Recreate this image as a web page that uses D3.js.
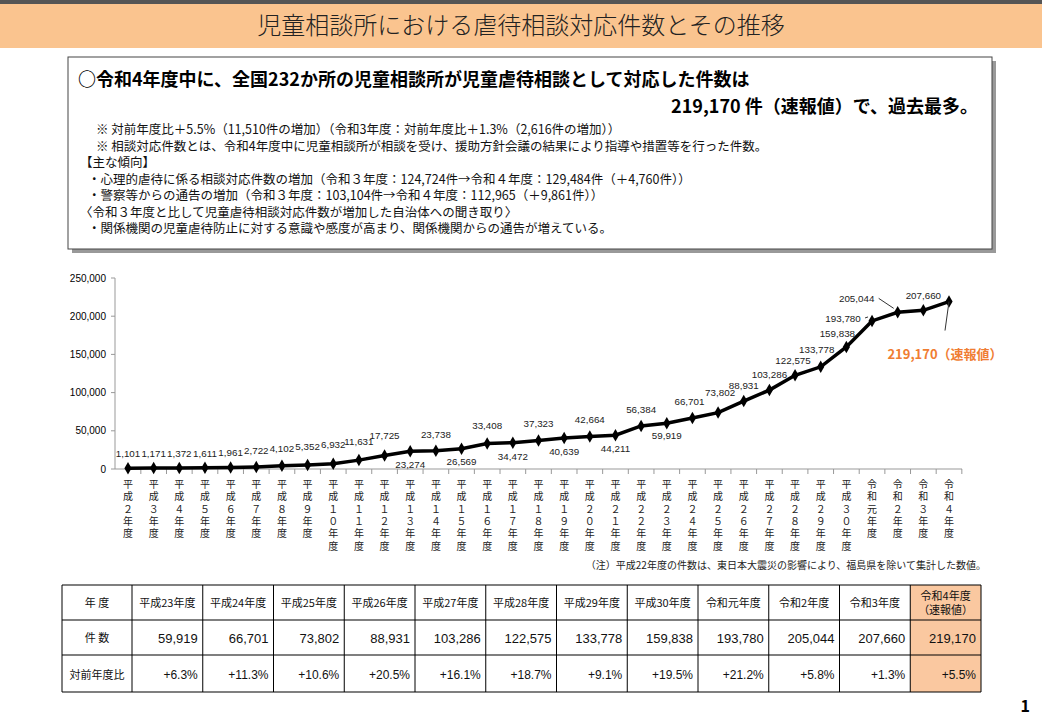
<!DOCTYPE html>
<html><head><meta charset="utf-8">
<script src="https://cdn.jsdelivr.net/npm/d3@7"></script>
<style>body{margin:0;background:#fff;font-family:"Noto Sans CJK JP",sans-serif;}</style>
</head><body>
<svg id="c" width="1042" height="722"></svg>
<script>
// data
var years = ["平成2年度","平成3年度","平成4年度","平成5年度","平成6年度","平成7年度","平成8年度","平成9年度","平成10年度","平成11年度","平成12年度","平成13年度","平成14年度","平成15年度","平成16年度","平成17年度","平成18年度","平成19年度","平成20年度","平成21年度","平成22年度","平成23年度","平成24年度","平成25年度","平成26年度","平成27年度","平成28年度","平成29年度","平成30年度","令和元年度","令和2年度","令和3年度","令和4年度"];
var counts = [1101,1171,1372,1611,1961,2722,4102,5352,6932,11631,17725,23274,23738,26569,33408,34472,37323,40639,42664,44211,56384,59919,66701,73802,88931,103286,122575,133778,159838,193780,205044,207660,219170];
var yTicks = [0,50000,100000,150000,200000,250000];
var tableYears = ["平成23年度","平成24年度","平成25年度","平成26年度","平成27年度","平成28年度","平成29年度","平成30年度","令和元年度","令和2年度","令和3年度","令和4年度"];
var tableCounts = [59919,66701,73802,88931,103286,122575,133778,159838,193780,205044,207660,219170];
var tableRates = ["+6.3%","+11.3%","+10.6%","+20.5%","+16.1%","+18.7%","+9.1%","+19.5%","+21.2%","+5.8%","+1.3%","+5.5%"];
// label offsets [dx,dy] (layout)
var labelOff = [[0,-15],[0,-15],[0,-15],[0,-15],[0,-16],[0,-17],[0,-18],[0,-19],[0,-20],[0,-19],[0,-20],[0,13],[0,-17],[0,12],[0,-18],[0,13],[0,-17],[0,13],[0,-17],[0,13],[0,-17],[0,12],[-3,-17],[2,-21],[0,-16],[0,-16],[-2,-15],[-4,-18],[-9,-14],[-29,-3],[-41,-14],[0,-15],null];

var svg = d3.select("#c");
var fmt = d3.format(",");

// title band
svg.append("rect").attr("x",0).attr("y",0).attr("width",1042).attr("height",4).attr("fill","#555");
svg.append("rect").attr("x",0).attr("y",4).attr("width",1042).attr("height",44).attr("fill","#fac48f");
svg.append("text").attr("x",521).attr("y",34).attr("text-anchor","middle")
    .attr("font-size",24).attr("font-weight",300).attr("fill","#222")
    .text("児童相談所における虐待相談対応件数とその推移");

// summary box
svg.append("rect").attr("x",72).attr("y",61).attr("width",924).attr("height",192).attr("fill","#999");
svg.append("rect").attr("x",68).attr("y",57).attr("width",924).attr("height",192).attr("fill","#fff").attr("stroke","#444");
svg.append("text").attr("x",78).attr("y",86).attr("font-size",18).attr("font-weight",700)
    .text("○令和4年度中に、全国232か所の児童相談所が児童虐待相談として対応した件数は");
svg.append("text").attr("x",978).attr("y",113).attr("text-anchor","end").attr("font-size",18).attr("font-weight",700)
    .text("219,170 件（速報値）で、過去最多。");
var lines = [
    [96,"※  対前年度比＋5.5%（11,510件の増加）（令和3年度：対前年度比＋1.3%（2,616件の増加））"],
    [96,"※  相談対応件数とは、令和4年度中に児童相談所が相談を受け、援助方針会議の結果により指導や措置等を行った件数。"],
    [80,"【主な傾向】"],
    [88,"・心理的虐待に係る相談対応件数の増加（令和３年度：124,724件→令和４年度：129,484件（＋4,760件））"],
    [88,"・警察等からの通告の増加（令和３年度：103,104件→令和４年度：112,965（＋9,861件））"],
    [80,"〈令和３年度と比して児童虐待相談対応件数が増加した自治体への聞き取り〉"],
    [88,"・関係機関の児童虐待防止に対する意識や感度が高まり、関係機関からの通告が増えている。"]
];
lines.forEach(function(l,i){
    svg.append("text").attr("x",l[0]).attr("y",134+i*16.5).attr("font-size",12.5).attr("fill","#111").text(l[1]);
});

// chart
var x = d3.scalePoint().domain(years).range([128,949]);
var y = d3.scaleLinear().domain([0,250000]).range([469,278]);
var step = x.step();
var g = svg.append("g");
g.append("line").attr("x1",115).attr("x2",115).attr("y1",278).attr("y2",469).attr("stroke","#999");
g.append("line").attr("x1",115).attr("x2",962).attr("y1",469).attr("y2",469).attr("stroke","#999");
g.selectAll(".yt").data(yTicks).enter().append("g").each(function(d){
    var s = d3.select(this);
    s.append("line").attr("x1",111).attr("x2",115).attr("y1",y(d)).attr("y2",y(d)).attr("stroke","#999");
    s.append("text").attr("x",106).attr("y",y(d)+3.5).attr("text-anchor","end").attr("font-size",10)
        .attr("font-family","Liberation Sans, sans-serif").text(fmt(d));
});
g.selectAll(".xt").data(years).enter().append("line")
    .attr("x1",function(d){return x(d)+step/2;}).attr("x2",function(d){return x(d)+step/2;})
    .attr("y1",469).attr("y2",474).attr("stroke","#999");
// vertical category labels
years.forEach(function(d){
    var chars = d.replace(/(\d)/g,function(m){return String.fromCharCode(m.charCodeAt(0)+0xFEE0);}).split("");
    chars.forEach(function(ch,i){
        svg.append("text").attr("x",x(d)).attr("y",488+i*12.3).attr("text-anchor","middle")
            .attr("font-size",10).attr("fill","#222").text(ch);
    });
});
var line = d3.line().x(function(d,i){return x(years[i]);}).y(function(d){return y(d);});
g.append("path").datum(counts).attr("d",line).attr("fill","none").attr("stroke","#000").attr("stroke-width",3.5);
g.selectAll(".pt").data(counts).enter().append("path")
    .attr("d",d3.symbol(d3.symbolDiamond,45))
    .attr("transform",function(d,i){return "translate("+x(years[i])+","+y(d)+")";});
g.selectAll(".lb").data(counts).enter().filter(function(d,i){return labelOff[i];}).append("text")
    .attr("x",function(d){var i=counts.indexOf(d);return x(years[i])+labelOff[i][0];})
    .attr("y",function(d){var i=counts.indexOf(d);return y(d)+labelOff[i][1]+4;})
    .attr("text-anchor","middle").attr("font-size",9.8).attr("font-family","Liberation Sans, sans-serif")
    .attr("fill","#222").text(fmt);
// leader lines
[[29,-12],[30,-20]].forEach(function(a){
    var px=x(years[a[0]]), py=y(counts[a[0]]);
    g.append("path").attr("d","M"+(px+labelOff[a[0]][0]+22)+","+(py+labelOff[a[0]][1])+" L"+(px-4)+","+(py-4))
        .attr("stroke","#333").attr("fill","none");
});
var last = counts.length-1;
g.append("line").attr("x1",x(years[last])).attr("y1",y(counts[last])).attr("x2",x(years[last])-4).attr("y2",y(counts[last])+29).attr("stroke","#333");
svg.append("text").attr("x",945).attr("y",359).attr("text-anchor","middle").attr("font-size",13).attr("font-weight",700)
    .attr("fill","#f07d32").text(fmt(counts[last])+"（速報値）");
svg.append("text").attr("x",986).attr("y",569).attr("text-anchor","end").attr("font-size",10).attr("fill","#222")
    .text("（注）平成22年度の件数は、東日本大震災の影響により、福島県を除いて集計した数値。");

// table
var cx = d3.scaleBand().domain(tableYears).range([132,981]);
var rowsY = [585,620,655,692];
svg.append("rect").attr("x",cx("令和4年度")).attr("y",585).attr("width",cx.bandwidth()).attr("height",107).attr("fill","#fac8a0");
var T = svg.append("g").attr("font-size",11).attr("fill","#111");
rowsY.forEach(function(ry){
    T.append("line").attr("x1",62).attr("x2",981).attr("y1",ry).attr("y2",ry).attr("stroke","#000").attr("stroke-width",1.2);
});
[62].concat(tableYears.map(function(d){return cx(d);})).concat([981]).forEach(function(vx){
    T.append("line").attr("x1",vx).attr("x2",vx).attr("y1",585).attr("y2",692).attr("stroke","#000");
});
T.append("text").attr("x",97).attr("y",607).attr("text-anchor","middle").text("年  度");
T.append("text").attr("x",97).attr("y",642).attr("text-anchor","middle").text("件  数");
T.append("text").attr("x",97).attr("y",679).attr("text-anchor","middle").text("対前年度比");
tableYears.forEach(function(d,i){
    var cxm = cx(d)+cx.bandwidth()/2, r = cx(d)+cx.bandwidth()-5;
    if(i===tableYears.length-1){
        T.append("text").attr("x",cxm).attr("y",600).attr("text-anchor","middle").text("令和4年度");
        T.append("text").attr("x",cxm).attr("y",614).attr("text-anchor","middle").text("（速報値）");
    } else {
        T.append("text").attr("x",cxm).attr("y",607).attr("text-anchor","middle").text(d);
    }
    T.append("text").attr("x",r).attr("y",643).attr("text-anchor","end").attr("font-size",13)
        .attr("font-family","Liberation Sans Narrow, Liberation Sans, sans-serif").text(fmt(tableCounts[i]));
    T.append("text").attr("x",r).attr("y",679).attr("text-anchor","end").attr("font-size",12)
        .attr("font-family","Liberation Sans Narrow, Liberation Sans, sans-serif").text(tableRates[i]);
});
svg.append("text").attr("x",1030).attr("y",712).attr("text-anchor","end").attr("font-size",16).attr("font-weight",700).text("1");
</script>
</body></html>
